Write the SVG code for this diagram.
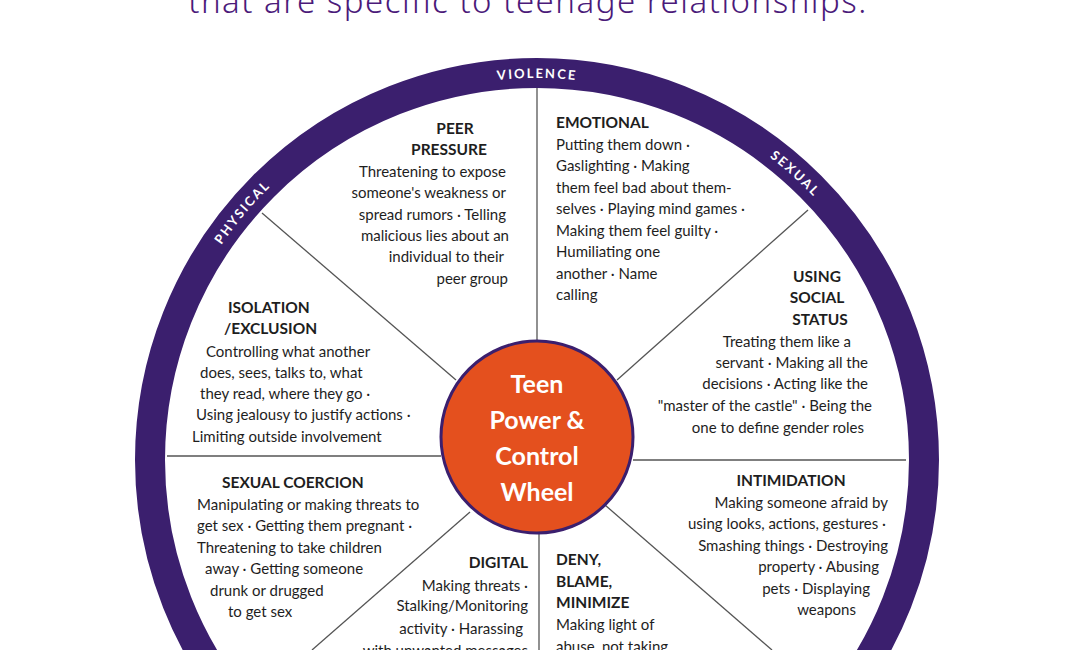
<svg xmlns="http://www.w3.org/2000/svg" width="1080" height="650" viewBox="0 0 1080 650">
<style>
.t{font-family:Lato,"Noto Sans",sans-serif;font-size:15px;fill:#1e1e1e}
.h{font-family:Lato,"Noto Sans",sans-serif;font-size:15.5px;font-weight:bold;fill:#1e1e1e}
.r{font-family:Lato,"Noto Sans",sans-serif;font-size:13px;font-weight:bold;fill:#fff;letter-spacing:2px}
.e{text-anchor:end}.m{text-anchor:middle}
.ln{stroke:#555;stroke-width:1.3;fill:none}
</style>
<defs><path id="ring" d="M155,460 A382,382 0 1 1 919,460 A382,382 0 1 1 155,460"/></defs>
<rect width="1080" height="650" fill="#fff"/>
<text x="528" y="13" text-anchor="middle" font-family="'Noto Sans',sans-serif" font-size="33" font-weight="300" fill="#4b1a7a" letter-spacing="1.5">that are specific to teenage relationships.</text>
<g id="wheel">
<circle cx="537" cy="460" r="387" fill="#fff" stroke="#3b1f6e" stroke-width="30"/>
<text class="r"><textPath href="#ring" startOffset="600" text-anchor="middle">VIOLENCE</textPath></text>
<text class="r"><textPath href="#ring" startOffset="267" text-anchor="middle">PHYSICAL</textPath></text>
<text class="r"><textPath href="#ring" startOffset="880" text-anchor="middle">SEXUAL</textPath></text>
</g>
<g id="connectors">
<line class="ln" x1="537" y1="88" x2="537" y2="342"/>
<line class="ln" x1="539" y1="532" x2="539" y2="650"/>
<line class="ln" x1="262" y1="213" x2="456" y2="380"/>
<line class="ln" x1="808" y1="210" x2="617" y2="380"/>
<line class="ln" x1="167" y1="456" x2="441" y2="456"/>
<line class="ln" x1="633" y1="460" x2="906" y2="460"/>
<line class="ln" x1="470" y1="512" x2="312" y2="650"/>
<line class="ln" x1="605" y1="505" x2="772" y2="650"/>
</g>
<g id="hub">
<circle cx="537" cy="437" r="96" fill="#e4501e" stroke="#3b1f6e" stroke-width="3"/>
<g font-family="Lato,'Noto Sans',sans-serif" font-size="25" font-weight="bold" fill="#fff" text-anchor="middle">
<text x="537" y="393">Teen</text><text x="537" y="429">Power &amp;</text><text x="537" y="465">Control</text><text x="537" y="501">Wheel</text></g>
</g>
<g id="peer">
<text class="h m" x="455" y="134">PEER</text><text class="h m" x="449" y="155">PRESSURE</text>
<text class="t e" x="506" y="177">Threatening to expose</text>
<text class="t e" x="506" y="198">someone's weakness or</text>
<text class="t e" x="506" y="220">spread rumors · Telling</text>
<text class="t e" x="509" y="241">malicious lies about an</text>
<text class="t e" x="504" y="262">individual to their</text>
<text class="t e" x="508" y="284">peer group</text>
</g>
<g id="emotional">
<text class="h" x="556" y="128">EMOTIONAL</text>
<text class="t" x="556" y="150">Putting them down ·</text>
<text class="t" x="556" y="171">Gaslighting · Making</text>
<text class="t" x="556" y="193">them feel bad about them-</text>
<text class="t" x="556" y="214">selves · Playing mind games ·</text>
<text class="t" x="556" y="236">Making them feel guilty ·</text>
<text class="t" x="556" y="257">Humiliating one</text>
<text class="t" x="556" y="279">another · Name</text>
<text class="t" x="556" y="300">calling</text>
</g>
<g id="social">
<text class="h m" x="817" y="282">USING</text><text class="h m" x="817" y="303">SOCIAL</text><text class="h m" x="820" y="325">STATUS</text>
<text class="t e" x="851" y="347">Treating them like a</text>
<text class="t e" x="868" y="368">servant · Making all the</text>
<text class="t e" x="868" y="389">decisions  · Acting like the</text>
<text class="t e" x="872" y="411">"master of the castle" · Being the</text>
<text class="t e" x="864" y="433">one to define gender roles</text>
</g>
<g id="isolation">
<text class="h" x="228" y="313">ISOLATION</text><text class="h" x="224" y="334">/EXCLUSION</text>
<text class="t" x="206" y="357">Controlling what another</text>
<text class="t" x="200" y="378">does, sees, talks to, what</text>
<text class="t" x="200" y="399">they read, where they go ·</text>
<text class="t" x="196" y="420">Using jealousy to justify actions ·</text>
<text class="t" x="192" y="442">Limiting outside involvement</text>
</g>
<g id="coercion">
<text class="h" x="222" y="488">SEXUAL COERCION</text>
<text class="t" x="197" y="510">Manipulating or making threats to</text>
<text class="t" x="197" y="531">get sex · Getting them pregnant ·</text>
<text class="t" x="197" y="553">Threatening to take children</text>
<text class="t" x="205" y="574">away · Getting  someone</text>
<text class="t" x="210" y="596">drunk or drugged</text>
<text class="t" x="228" y="617">to get sex</text>
</g>
<g id="intimidation">
<text class="h m" x="791" y="486">INTIMIDATION</text>
<text class="t e" x="888" y="508">Making someone afraid by</text>
<text class="t e" x="886" y="529">using  looks, actions, gestures ·</text>
<text class="t e" x="888" y="551">Smashing things · Destroying</text>
<text class="t e" x="879" y="572">property ·  Abusing</text>
<text class="t e" x="870" y="594">pets · Displaying</text>
<text class="t e" x="856" y="615">weapons</text>
</g>
<g id="digital">
<text class="h e" x="528" y="568">DIGITAL</text>
<text class="t e" x="528" y="591">Making threats ·</text>
<text class="t e" x="528" y="611" font-size="13">Stalking/Monitoring</text>
<text class="t e" x="523" y="634">activity · Harassing</text>
<text class="t e" x="528" y="656">with unwanted messages</text>
</g>
<g id="deny">
<text class="h" x="556" y="565">DENY,</text><text class="h" x="556" y="587">BLAME,</text><text class="h" x="556" y="608">MINIMIZE</text>
<text class="t" x="556" y="630">Making light of</text>
<text class="t" x="556" y="652">abuse, not taking</text>
</g>
</svg>
